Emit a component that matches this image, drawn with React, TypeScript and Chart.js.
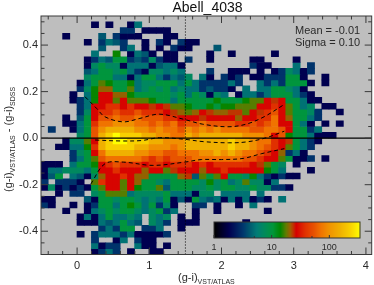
import React, { useEffect, useRef } from "react";
import { Chart, registerables } from "chart.js";

Chart.register(...registerables);

// Counts per bin. Each row is one band of (g-i)SDSS difference, top to bottom; columns start at x=-0.5
const countRows: number[][] = [
  [0,0,0,0,0,0,0,1,0,1,0,0,1,5],
  [0,0,0,0,0,0,0,0,0,0,0,3,3,0,1,1,1,1],
  [0,0,0,1,0,0,0,0,4,0,3,1,1,1,0,0,0,1,1],
  [0,0,0,0,0,0,1,0,3,5,4,3,0,0,1,0,3,1,0,3,1,1],
  [0,0,0,0,0,0,0,0,4,0,0,3,5,0,1,0,1,0,3,1,1,0,0,0,4],
  [0,0,0,0,0,0,0,5,0,0,14,0,1,5,4,1,0,1,1,0,0,0,0,1,0,0,1,0,0,0,0,0,1],
  [0,0,0,0,0,0,1,3,5,4,10,10,3,4,3,7,3,1,1,0,3,0,0,1,0,0,0,0,0,1,1,0,0,0,0,1],
  [0,0,0,0,0,0,1,7,10,7,7,1,5,5,5,1,4,5,5,1,0,0,0,0,0,0,0,0,0,3,1,1,0,0,0,5,0,3],
  [0,0,0,0,0,0,4,5,10,10,7,10,5,3,1,7,7,5,7,5,0,0,0,3,0,0,1,1,1,0,1,0,1,3,7,5,1,3],
  [0,0,0,0,0,0,7,10,10,10,5,5,1,5,10,10,5,3,5,4,7,0,5,1,0,3,1,3,0,1,1,3,3,3,10,10,1,0,0,1],
  [0,0,0,0,0,1,5,10,17,14,10,10,14,5,7,7,10,10,10,5,10,5,3,3,3,3,5,3,0,0,5,3,5,3,10,10,10,1,0,1],
  [0,0,0,0,0,3,7,14,20,20,10,10,17,5,7,10,7,10,5,7,5,5,3,4,3,3,1,0,5,0,5,5,10,10,7,5,1],
  [0,0,0,0,1,0,5,14,27,27,20,20,14,10,10,10,10,10,7,10,5,10,7,1,7,5,0,1,5,5,3,5,10,10,10,5,3,1],
  [0,0,0,0,1,3,5,14,27,27,17,27,17,17,17,14,10,10,5,10,10,10,10,10,14,10,10,10,14,17,17,27,23,27,10,10,5,1,1],
  [0,0,0,0,0,3,5,27,27,37,37,27,37,27,27,23,27,23,17,17,14,10,10,14,10,14,14,17,17,17,27,27,37,27,17,10,5,7,0,1,1],
  [0,0,0,0,0,3,7,27,37,37,54,37,37,54,37,37,37,27,23,20,17,20,27,23,20,20,23,23,17,27,23,37,54,27,17,10,10,7,3,0,0,1],
  [0,0,0,1,0,4,10,27,54,54,70,54,54,70,54,54,54,37,37,27,27,27,23,27,27,27,27,20,27,27,37,37,70,27,20,10,10,5,3],
  [0,0,0,1,1,5,10,37,70,70,95,95,95,70,70,54,70,54,70,37,54,54,70,54,54,54,54,37,37,54,37,54,70,27,27,10,5,1,0,1,0,1],
  [0,3,0,0,1,5,10,54,95,150,150,150,150,95,95,70,95,70,70,54,95,70,95,70,95,70,70,70,70,54,54,70,70,54,27,10,10,3,5],
  [0,0,0,0,0,7,10,54,150,225,340,225,225,225,150,150,95,95,70,70,150,95,150,150,150,150,150,150,95,95,95,70,27,54,14,10,10,5,1,1,1],
  [0,0,0,1,7,7,17,27,150,225,340,340,225,225,225,150,150,95,95,95,150,150,150,150,150,150,225,150,150,95,70,70,37,27,23,10,5,3,1],
  [0,0,1,1,5,5,14,37,150,225,225,225,225,150,150,95,95,95,70,95,150,150,150,150,150,150,225,150,150,95,70,54,37,27,17,10,5,3],
  [0,0,0,0,3,7,10,27,70,150,150,150,150,95,95,70,70,54,54,70,70,70,95,95,150,95,150,95,70,70,54,37,27,20,3,5,1],
  [0,0,0,0,3,5,10,17,54,70,70,70,70,70,54,37,54,37,54,54,54,70,70,70,70,70,70,70,54,54,37,27,27,17,10,1,1,3,0,1],
  [1,1,1,0,5,10,10,14,27,37,54,37,37,37,27,37,37,27,37,37,37,27,37,27,37,37,37,37,37,27,23,17,10,7,0,1],
  [1,5,5,7,7,7,5,10,27,27,37,27,27,27,20,27,27,17,23,27,27,27,20,27,27,37,27,27,27,27,27,14,10,5,0,0,0,1],
  [1,4,10,0,5,4,1,7,20,27,27,37,27,20,20,10,10,10,10,20,23,4,17,10,17,27,10,10,7,14,5,3,1,3,1,1],
  [3,0,3,3,3,1,0,17,37,27,27,17,27,20,10,10,7,5,10,10,10,10,7,14,7,10,5,7,17,7,7,1,5],
  [1,7,1,3,1,3,1,10,17,27,27,17,27,14,10,10,17,4,10,10,10,7,7,10,7,10,10,7,7,10,7,7,3,3,1],
  [0,0,1,0,3,3,0,7,10,17,17,17,5,7,7,7,7,10,5,5,5,1,7,7,0,5,5,5,5,0,5],
  [1,1,0,0,0,0,4,1,10,10,7,10,10,7,5,7,5,10,1,4,1,10,5,4,5,1,5,1,5,1,3,1,0,5],
  [3,1,0,0,1,0,1,3,10,10,5,10,14,10,5,10,3,7,1,0,0,3,3,0,1,0,0,1,0,5],
  [0,0,0,1,0,0,1,5,7,10,7,10,10,7,5,7,10,3,5,0,0,1,0,0,1,0,0,0,0,0,0,1],
  [0,0,0,0,0,1,5,1,5,10,5,5,7,5,0,7,5,7,0,1,0,1],
  [0,0,0,0,0,1,1,1,5,4,5,10,5,4,0,7,5,3,0,1,1,1,0,0,0,0,0,0,1],
  [0,0,0,0,0,0,0,0,3,5,3,10,10,0,3,3,5,0,0,1],
  [0,0,0,0,0,1,0,3,5,5,5,3,5,1,1,1,1,3],
  [0,0,0,0,0,0,0,3,0,0,1,5,0,3,1,1],
  [0,0,0,0,0,0,0,5,1,3,3,0,0,5,1,1,0,1],
  [0,0,0,0,0,0,0,1,3,5,3,0,1,0,0,1,1],
];

const upperX = [0.11, 0.27, 0.385, 0.64, 0.87, 1.14, 1.49, 1.74, 2.09, 2.34, 2.59, 2.87];
const upperY = [0.178, 0.128, 0.092, 0.07, 0.085, 0.103, 0.08, 0.06, 0.049, 0.06, 0.092, 0.145];
const lowerX = [0.19, 0.385, 0.64, 1.05, 1.49, 1.72, 2.0, 2.3, 2.55, 2.87];
const lowerY = [-0.197, -0.11, -0.103, -0.117, -0.103, -0.092, -0.092, -0.087, -0.067, -0.045];
const middleX = [0.25, 0.6, 0.9, 1.14, 1.49, 1.75, 2.1, 2.35, 2.6, 2.87];
const middleY = [-0.008, -0.012, -0.01, 0.002, -0.005, -0.015, -0.02, -0.016, 0.0, 0.03];

const xLabels = [0, 1, 2, 3, 4];
const yLabels = [-0.4, -0.2, 0, 0.2, 0.4];
const xMinor = [-0.4, -0.2, 0.2, 0.4, 0.6, 0.8, 1.2, 1.4, 1.6, 1.8, 2.2, 2.4, 2.6, 2.8, 3.2, 3.4, 3.6, 3.8];
const yMinor = [-0.45, -0.35, -0.3, -0.25, -0.15, -0.1, -0.05, 0.05, 0.1, 0.15, 0.25, 0.3, 0.35, 0.45, 0.5];
const colorbarLabels = [1, 10, 100];
const colorbarMinor = [5, 50];

const title = "Abell_4038";
const statLines = ["Mean = -0.01", "Sigma = 0.10"];
const FONT = '"Liberation Sans", Arial, sans-serif';
const INK = "#2a2a2a";

const stops: [number, number, number, number][] = [
  [0, 0, 0, 0], [0.1, 0, 0, 80], [0.2, 0, 58, 110], [0.25, 0, 96, 112], [0.29, 0, 124, 118],
  [0.34, 0, 138, 92], [0.4, 0, 150, 58], [0.45, 0, 134, 0], [0.49, 96, 124, 0], [0.52, 160, 92, 0],
  [0.54, 192, 48, 0], [0.56, 214, 0, 0], [0.62, 224, 48, 0], [0.685, 232, 84, 0], [0.73, 240, 116, 0],
  [0.78, 240, 144, 0], [0.86, 240, 176, 0], [0.93, 248, 208, 0], [1, 255, 255, 0],
];
function ramp(t: number): string {
  const v = Math.min(1, Math.max(0, t));
  for (let i = 1; i < stops.length; i++) {
    if (v <= stops[i][0]) {
      const a = stops[i - 1], b = stops[i];
      const f = (v - a[0]) / (b[0] - a[0]);
      const c = [1, 2, 3].map((k) => Math.round(a[k] + (b[k] - a[k]) * f));
      return `rgb(${c[0]},${c[1]},${c[2]})`;
    }
  }
  return "rgb(255,255,0)";
}
const DECADE = 0.395;
const countColor = (c: number) => ramp(Math.max(0.1, Math.log10(c) * DECADE));

const cellDatasets = countRows.map((row, r) => {
  const top = 0.5 - 0.025 * r;
  const cells = row
    .map((count, col) => ({ count, x: -0.45 + 0.0997 * col, y: [top - 0.025, top] }))
    .filter((c) => c.count > 0);
  return {
    type: "bar" as const,
    data: cells.map((c) => ({ x: c.x, y: c.y })),
    backgroundColor: cells.map((c) => countColor(c.count)),
    grouped: false,
    barPercentage: 1,
    categoryPercentage: 1,
    inflateAmount: 0.33,
    borderWidth: 0,
    order: 5,
  };
});

const lineSet = (xs: number[], ys: number[], extra: object) => ({
  type: "line" as const,
  data: xs.map((x, i) => ({ x, y: ys[i] })),
  pointRadius: 0,
  borderColor: "#000",
  tension: 0.35,
  order: 1,
  ...extra,
});

const frame = {
  id: "frame",
  beforeDatasetsDraw(chart: any) {
    const { ctx, chartArea: a } = chart;
    ctx.save();
    ctx.fillStyle = "#bebebe";
    ctx.fillRect(a.left, a.top, a.right - a.left, a.bottom - a.top);
    ctx.restore();
  },
  afterDraw(chart: any) {
    const { ctx, chartArea: a, scales } = chart;
    const xs = scales.x, ys = scales.y;
    ctx.save();
    ctx.strokeStyle = "#3a3a3a";
    ctx.lineWidth = 1;
    ctx.strokeRect(a.left, a.top, a.right - a.left, a.bottom - a.top);
    ctx.beginPath();
    const xt = (v: number, len: number) => {
      const p = xs.getPixelForValue(v);
      ctx.moveTo(p, a.bottom); ctx.lineTo(p, a.bottom - len);
      ctx.moveTo(p, a.top); ctx.lineTo(p, a.top + len);
    };
    const yt = (v: number, len: number) => {
      const p = ys.getPixelForValue(v);
      ctx.moveTo(a.left, p); ctx.lineTo(a.left + len, p);
      ctx.moveTo(a.right, p); ctx.lineTo(a.right - len, p);
    };
    xLabels.forEach((v) => xt(v, 7));
    xMinor.forEach((v) => xt(v, 3.5));
    yLabels.forEach((v) => yt(v, 7));
    yMinor.forEach((v) => yt(v, 3.5));
    ctx.stroke();

    // colour bar
    const bx0 = 214, bx1 = 360, by0 = 222, by1 = 238;
    for (let x = bx0; x < bx1; x++) {
      ctx.fillStyle = ramp((x - bx0) / (bx1 - bx0));
      ctx.fillRect(x, by0, 1.2, by1 - by0);
    }
    ctx.strokeStyle = "#333";
    ctx.lineWidth = 1;
    ctx.strokeRect(bx0, by0, bx1 - bx0, by1 - by0);
    const bp = (c: number) => bx0 + (Math.log10(c) * DECADE) * (bx1 - bx0);
    ctx.beginPath();
    colorbarLabels.forEach((c) => { ctx.moveTo(bp(c), by1); ctx.lineTo(bp(c), by1 - 3); });
    colorbarMinor.forEach((c) => { ctx.moveTo(bp(c), by1); ctx.lineTo(bp(c), by1 - 2); });
    ctx.stroke();
    ctx.fillStyle = INK;
    ctx.font = `9px ${FONT}`;
    ctx.textAlign = "center";
    ctx.textBaseline = "alphabetic";
    colorbarLabels.forEach((c) => ctx.fillText(String(c), bp(c), 250));

    // statistics
    ctx.font = `11px ${FONT}`;
    ctx.textAlign = "left";
    ctx.fillText(statLines[0], 295, 34);
    ctx.fillText(statLines[1], 295, 45.5);

    // title
    ctx.fillStyle = "#111";
    ctx.font = `14px ${FONT}`;
    ctx.textAlign = "center";
    ctx.fillText(title, 207.5, 12);

    // axis titles with subscripts
    const run = (parts: [string, boolean][], x0: number, base: number) => {
      let x = x0;
      parts.forEach(([s, sub]) => {
        ctx.font = sub ? `7px ${FONT}` : `11px ${FONT}`;
        ctx.fillText(s, x, sub ? base + 3 : base);
        x += ctx.measureText(s).width;
      });
    };
    ctx.fillStyle = INK;
    ctx.textAlign = "left";
    run([["(g-i)", false], ["VST/ATLAS", true]], 178, 281);
    ctx.save();
    ctx.translate(12, 192);
    ctx.rotate(-Math.PI / 2);
    run([["(g-i)", false], ["VST/ATLAS", true], [" - (g-i)", false], ["SDSS", true]], 0, 0);
    ctx.restore();
    ctx.restore();
  },
};

export default function App() {
  const ref = useRef<HTMLCanvasElement>(null);
  useEffect(() => {
    if (!ref.current) return;
    const chart = new Chart(ref.current, {
      data: {
        datasets: [
          ...cellDatasets,
          lineSet(upperX, upperY, { borderWidth: 1, borderDash: [4, 3] }),
          lineSet(lowerX, lowerY, { borderWidth: 1, borderDash: [4, 3] }),
          lineSet(middleX, middleY, { borderWidth: 1, borderDash: [4, 3] }),
          lineSet([-0.5, 4.08], [0, 0], { borderWidth: 1.2, tension: 0 }),
          lineSet([1.5, 1.5], [-0.5, 0.525], { borderWidth: 1, borderDash: [1, 2], tension: 0 }),
        ] as any,
      },
      options: {
        animation: false,
        responsive: false,
        devicePixelRatio: 1,
        layout: { padding: { top: 16, right: 1, left: 0, bottom: 0 } },
        plugins: { legend: { display: false }, tooltip: { enabled: false }, title: { display: false } },
        scales: {
          x: {
            type: "linear", min: -0.5, max: 4.08, offset: false,
            grid: { display: false, drawTicks: false }, border: { display: false },
            afterFit: (s: any) => { s.height = 30.5; },
            afterBuildTicks: (s: any) => { s.ticks = xLabels.map((value) => ({ value })); },
            ticks: { padding: 5, color: INK, autoSkip: false, maxRotation: 0, font: { family: FONT, size: 11 }, callback: (v: any) => String(v) },
          },
          y: {
            type: "linear", min: -0.5, max: 0.525, offset: false,
            grid: { display: false, drawTicks: false }, border: { display: false },
            afterFit: (s: any) => { s.width = 41; },
            afterBuildTicks: (s: any) => { s.ticks = yLabels.map((value) => ({ value })); },
            ticks: { padding: 3, color: INK, autoSkip: false, font: { family: FONT, size: 11 }, callback: (v: any) => Number(v).toFixed(1) },
          },
        },
      } as any,
      plugins: [frame],
    });
    return () => chart.destroy();
  }, []);
  return (
    <div style={{ position: "absolute", left: 0, top: 0, width: 374, height: 285, background: "#fff" }}>
      <canvas ref={ref} width={374} height={285} style={{ display: "block", filter: "blur(0.35px)" }} />
    </div>
  );
}
